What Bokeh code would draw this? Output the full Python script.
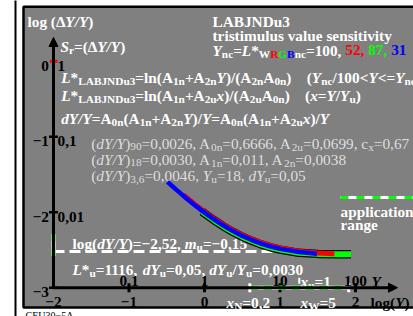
from bokeh.plotting import figure
from bokeh.models import Range1d, ColumnDataSource, Arrow, NormalHead
from bokeh.core.properties import value
from bokeh.embed import file_html
from bokeh.resources import INLINE

# ---------------- data ----------------
x_ticks = [-2, -1, 0, 1, 2]
x_bottom_labels = ["−2", "−1", "0", "1", "2"]
x_top_ticks = [-1, 0, 1, 2]
x_top_labels = ["0,1", "1", "10", "100"]
y_ticks = [0, -1, -2, -3]
y_left_labels = ["0", "−1", "−2", "−3"]
y_right_ticks = [0, -1, -2]
y_right_labels = ["1", "0,1", "0,01"]

# curves: log(Y) -> log(dY/Y)
blue_logY = [-0.49, -0.375, -0.25, -0.125, 0.0, 0.125, 0.25, 0.375, 0.5, 0.625, 0.75, 0.875, 1.0, 1.25, 1.49]
blue_logdY = [-1.598, -1.701, -1.808, -1.910, -2.006, -2.095, -2.177, -2.250, -2.314, -2.369, -2.416, -2.455, -2.486, -2.528, -2.550]
red_logY = [-0.28, -0.25, -0.125, 0.0, 0.125, 0.25, 0.375, 0.5, 0.625, 0.75, 0.875, 1.0, 1.25, 1.5, 1.72]
red_logdY = [-1.770, -1.796, -1.898, -1.994, -2.083, -2.165, -2.238, -2.302, -2.357, -2.404, -2.443, -2.474, -2.516, -2.540, -2.552]
green_logY = [-0.03, 0.0, 0.125, 0.25, 0.375, 0.5, 0.625, 0.75, 0.875, 1.0, 1.25, 1.5, 1.75, 1.94]
green_logdY = [-1.993, -2.016, -2.105, -2.187, -2.260, -2.324, -2.379, -2.426, -2.465, -2.496, -2.538, -2.552, -2.556, -2.558]

app_logY = [0.60, 1.91]          # x_N=0,2 ... x_W=5
app_logdY = [-2.29, -2.58]       # dY/Y range on the vertical axis
level_logdY = -2.52              # log(dY/Y)=-2,52
level_end_logY = 1.255           # x_u = 1  (Y = Yu = 18)
xu_logY = 1.255

GRAY = "#808080"
LIGHT = "#dedede"
RED, GREEN, BLUE = "#ff0000", "#00ff00", "#0000ff"
FONT = "Liberation Serif"
FSIZE = 15.3

# ---------------- pixel helpers (for texts / decorations) ----------------
PX0, PY0, S = 204.0, 60.7, 75.5


def X(px):
    return (px - PX0) / S


def Y(py):
    return (PY0 - py) / S


def d(px):
    return px / S


p = figure(width=413, height=316,
           x_range=Range1d(X(0), X(413)), y_range=Range1d(Y(316), Y(0)),
           x_axis_type=None, y_axis_type=None, toolbar_location=None,
           output_backend="svg", min_border=0, outline_line_color=None,
           background_fill_color="white", border_fill_color="white")

# panel
p.quad(left=[X(23)], right=[X(440)], top=[Y(6.2)], bottom=[Y(307)],
       fill_color=GRAY, line_color="black", line_width=2.5)
p.segment(x0=[X(15)], y0=[Y(-5)], x1=[X(15)], y1=[Y(330)], line_color="black", line_width=2)

# ---------------- rich text ----------------
W = {
    'b': {' ': 250, '(': 333, ')': 333, '*': 500, '+': 570, ',': 250, '/': 278, ':': 333,
          '<': 570, '=': 570, '>': 570, '−': 570, 'Δ': 612,
          'A': 722, 'B': 667, 'D': 722, 'G': 778, 'J': 500, 'L': 667, 'N': 722, 'R': 722,
          'U': 722, 'W': 1000, 'Y': 722,
          'a': 500, 'c': 444, 'e': 444, 'g': 500, 'i': 278, 'l': 278, 'm': 833, 'n': 556,
          'o': 500, 'p': 556, 'r': 444, 's': 389, 't': 333, 'u': 556, 'v': 500, 'x': 500, 'y': 500},
    'bi': {'S': 556, 'Y': 611, 'L': 611, 'x': 500, 'd': 500, 'm': 778, '/': 278, 'u': 556},
    'r': {' ': 250, '(': 333, ')': 333, ',': 250, '=': 564, 'A': 722, 'c': 444, 'n': 500,
          'u': 500, 'x': 500, 'Y': 722},
    'i': {'d': 500, 'Y': 556, '/': 278},
}
FS = {'b': 'bold', 'bi': 'bold italic', 'r': 'normal', 'i': 'italic'}
texts = {}


def tw(s, st, size):
    tab = W[st]
    return sum(tab.get(c, 500) for c in s) * size / 1000.0


def put(xd, yd, s, fs, size, color, align="left"):
    key = (fs, size, align)
    dd = texts.setdefault(key, {"x": [], "y": [], "t": [], "c": []})
    dd["x"].append(xd)
    dd["y"].append(yd)
    dd["t"].append(s)
    dd["c"].append(color)


def rich(xp, yp, runs, size=FSIZE, color="white"):
    x = xp
    for run in runs:
        t, st = run[0], run[1]
        c = run[2] if len(run) > 2 else color
        sub = st.startswith('s')
        base = st[1:] if sub else st
        sz = round(size * 0.74, 1) if sub else size
        dy = size * 0.25 if sub else 0.0
        if t.strip():
            put(X(x), Y(yp + dy), t, FS[base], sz, c)
        x += tw(t, base, sz)


rich(27, 21, [("log (Δ", "b"), ("Y/Y", "bi"), (")", "b")])
rich(60, 45.5, [("S", "bi"), ("r", "sb"), ("=(Δ", "b"), ("Y/Y", "bi"), (")", "b")])

rich(60.7, 77, [("L", "bi"), ("*", "b"), ("LABJNDu3", "sb"), ("=ln(A", "b"), ("1n", "sb"), ("+A", "b"),
                ("2n", "sb"), ("Y", "bi"), (")/(A", "b"), ("2n", "sb"), ("A", "b"), ("0n", "sb"),
                (")", "b"), ("    ", "b"), ("(", "b"), ("Y", "bi"), ("nc", "sb"), ("/100<", "b"),
                ("Y", "bi"), ("<=", "b"), ("Y", "bi"), ("nc", "sb")])
rich(60.7, 94.5, [("L", "bi"), ("*", "b"), ("LABJNDu3", "sb"), ("=ln(A", "b"), ("1n", "sb"), ("+A", "b"),
                  ("2u", "sb"), ("x", "bi"), (")/(A", "b"), ("2u", "sb"), ("A", "b"), ("0n", "sb"),
                  (")", "b"), ("    ", "b"), ("(", "b"), ("x", "bi"), ("=", "b"), ("Y", "bi"), ("/", "b"),
                  ("Y", "bi"), ("u", "sb"), (")", "b")])
rich(60.7, 117.5, [("dY/Y", "bi"), ("=A", "b"), ("0n", "sb"), ("(A", "b"), ("1n", "sb"), ("+A", "b"),
                   ("2n", "sb"), ("Y", "bi"), (")/", "b"), ("Y", "bi"), ("=A", "b"), ("0n", "sb"),
                   ("(A", "b"), ("1n", "sb"), ("+A", "b"), ("2u", "sb"), ("x", "bi"), (")/", "b"),
                   ("Y", "bi")])

rich(90.7, 142.5, [("(", "r"), ("dY/Y", "i"), (")", "r"), ("90", "sr"), ("=0,0026, A", "r"), ("0n", "sr"),
                   ("=0,6666, A", "r"), ("2u", "sr"), ("=0,0699, c", "r"), ("x", "sr"), ("=0,67", "r")],
     color=LIGHT)
rich(90.7, 158.5, [("(", "r"), ("dY/Y", "i"), (")", "r"), ("18", "sr"), ("=0,0030, A", "r"), ("1n", "sr"),
                   ("=0,011, A", "r"), ("2n", "sr"), ("=0,0038", "r")], color=LIGHT)
rich(90.7, 175, [("(", "r"), ("dY/Y", "i"), (")", "r"), ("3,6", "sr"), ("=0,0046, ", "r"), ("Y", "i"),
                 ("u", "sr"), ("=18, ", "r"), ("dY", "i"), ("u", "sr"), ("=0,05", "r")], color=LIGHT)

rich(212, 20.5, [("LABJNDu3", "b")])
rich(212, 35, [("tristimulus value sensitivity", "b")])
rich(212, 49.5, [("Y", "bi"), ("nc", "sb"), ("=", "b"), ("L", "bi"), ("*", "b"), ("W", "sb"),
                 ("R", "sb", RED), ("G", "sb", GREEN), ("B", "sb", BLUE), ("nc", "sb"),
                 ("=100, ", "b"), ("52,", "b", RED), (" ", "b"), ("87,", "b", GREEN), (" ", "b"),
                 ("31", "b", BLUE)])

rich(340, 211, [("application", "b")])
rich(340, 223.5, [("range", "b")])

rich(72, 243, [("log(", "b"), ("dY/Y", "bi"), (")=−2,52, ", "b"), ("m", "bi"), ("u", "sb"), ("=−0,15", "b")])
rich(72, 269, [("L", "bi"), ("*", "b"), ("u", "sb"), ("=1116, ", "b"), ("dY", "bi"), ("u", "sb"),
               ("=0,05, ", "b"), ("dY", "bi"), ("u", "sb"), ("/", "b"), ("Y", "bi"), ("u", "sb"),
               ("=0,0030", "b")])

rich(300, 281, [("x", "bi"), ("u", "sb"), ("=1", "b")])
rich(226, 302, [("x", "bi"), ("N", "sb"), ("=0,2", "b")])
rich(300, 302, [("x", "bi"), ("W", "sb"), ("=5", "b")])
rich(371, 281, [("Y", "bi")], color="black")
rich(370, 302, [("log(", "b"), ("Y", "bi"), (")", "b")], color="black")


def flush_texts():
    for (fs, size, align), dd in texts.items():
        src = ColumnDataSource(dict(x=dd["x"], y=dd["y"], t=dd["t"], c=dd["c"]))
        p.text(x="x", y="y", text="t", source=src, text_color="c", text_font=value(FONT),
               text_font_style=fs, text_font_size=f"{size}px", text_align=align,
               text_baseline="alphabetic")


flush_texts()
texts.clear()

# ---------------- level line and curves ----------------
p.line([x_ticks[0], level_end_logY], [level_logdY, level_logdY], line_color="white",
       line_width=3, line_dash="11 5")

p.line(green_logY, green_logdY, line_color="black", line_width=8.5)
p.line(green_logY, green_logdY, line_color=GREEN, line_width=6)
p.line(red_logY, red_logdY, line_color=RED, line_width=5)
p.line(blue_logY, blue_logdY, line_color=BLUE, line_width=4.5)

# ---------------- axes ----------------
head = dict(size=9, fill_color="black", line_color="black")
p.add_layout(Arrow(end=NormalHead(**head), x_start=x_ticks[0], y_start=y_ticks[-1],
                   x_end=x_ticks[0], y_end=Y(37), line_width=3, line_color="black"))
p.add_layout(Arrow(end=NormalHead(**head), x_start=x_ticks[0], y_start=y_ticks[-1],
                   x_end=X(397), y_end=y_ticks[-1], line_width=3, line_color="black"))

yt = y_ticks[1:]
p.segment(x0=[x_ticks[0] - d(4.5)] * len(yt), y0=yt, x1=[x_ticks[0] + d(4.5)] * len(yt), y1=yt,
          line_color="black", line_width=2.5)
p.segment(x0=[x_ticks[0] - d(3.5)], y0=[y_ticks[0]], x1=[x_ticks[0] + d(4)], y1=[y_ticks[0]],
          line_color=RED, line_width=3)
xt = x_ticks[1:]
p.segment(x0=xt, y0=[y_ticks[-1] - d(4.5)] * len(xt), x1=xt, y1=[y_ticks[-1] + d(4.5)] * len(xt),
          line_color="black", line_width=3)

# application-range markers
p.line([x_ticks[0], x_ticks[0]], app_logdY, line_color="white", line_width=4)
p.line([x_ticks[0], x_ticks[0]], app_logdY, line_color=GREEN, line_width=4, line_dash="7 8")
p.line(app_logY, [y_ticks[-1]] * 2, line_color="white", line_width=4)
p.line(app_logY, [y_ticks[-1]] * 2, line_color=GREEN, line_width=4, line_dash="8 6")
p.segment(x0=app_logY, y0=[y_ticks[-1] - d(4.5)] * 2, x1=app_logY, y1=[y_ticks[-1] + d(4.5)] * 2,
          line_color="white", line_width=3)
p.segment(x0=[xu_logY], y0=[y_ticks[-1] + d(4)], x1=[xu_logY], y1=[y_ticks[-1] + d(10)],
          line_color="white", line_width=2)
# legend sample of the application range
p.line([X(340), X(420)], [Y(197), Y(197)], line_color="white", line_width=3)
p.line([X(340), X(420)], [Y(197), Y(197)], line_color=GREEN, line_width=3, line_dash="8 8")

# ---------------- tick labels ----------------
for xx, yy, t in zip([x_ticks[0] - d(4.5)] * 4, y_ticks, y_left_labels):
    put(xx, yy - d(4.5), t, 'bold', FSIZE, "black", "right")
for xx, yy, t in zip([x_ticks[0] + d(4)] * 3, y_right_ticks, y_right_labels):
    put(xx, yy - d(4.5), t, 'bold', FSIZE, "black", "left")
for xx, t in zip(x_top_ticks, x_top_labels):
    put(xx, y_ticks[-1] + d(6.5), t, 'bold', FSIZE, "black", "center")
for xx, t in zip(x_ticks, x_bottom_labels):
    put(xx, y_ticks[-1] - d(14.5), t, 'bold', FSIZE, "black", "center")
put(X(25), Y(315), "CEU30−5A", 'normal', 10.0, "black", "left")
flush_texts()

open("out.html", "w").write(file_html(p, INLINE))
